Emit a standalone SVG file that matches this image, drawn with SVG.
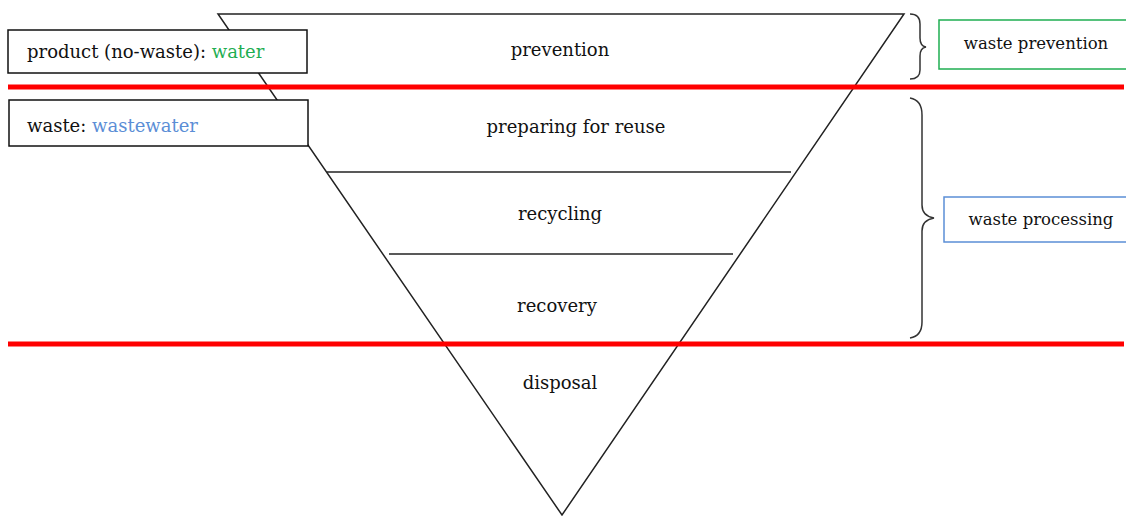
<svg xmlns="http://www.w3.org/2000/svg" width="1126" height="516" viewBox="0 0 1126 516">
<style>
text{font-family:'DejaVu Serif','Liberation Serif',serif;font-size:18px;fill:#111}
.c{text-anchor:middle}
.s{font-size:16.5px}
.ln{stroke:#222;stroke-width:1.5;fill:none}
.red{stroke:#ff0000;stroke-width:5}
.box{fill:#fff;stroke:#111;stroke-width:1.5}
.brace{stroke:#333;stroke-width:1.5;fill:none}
</style>
<rect width="1126" height="516" fill="#fff"/>
<g id="pyramid">
<polygon class="ln" points="218,14 904,14 562,515"/>
<line class="ln" x1="327" y1="172" x2="791" y2="172"/>
<line class="ln" x1="389" y1="254" x2="733" y2="254"/>
<text class="c" x="560" y="56">prevention</text>
<text class="c" x="576" y="133">preparing for reuse</text>
<text class="c" x="560" y="220">recycling</text>
<text class="c" x="557" y="312">recovery</text>
<text class="c" x="560" y="389">disposal</text>
</g>
<g id="dividers">
<line class="red" x1="8" y1="87" x2="1124" y2="87"/>
<line class="red" x1="8" y1="344" x2="1124" y2="344"/>
</g>
<g id="product">
<rect class="box" x="8" y="30" width="299" height="43"/>
<text x="27" y="58">product (no-waste): <tspan fill="#1fae52">water</tspan></text>
</g>
<g id="waste">
<rect class="box" x="9" y="100" width="299" height="46"/>
<text x="27" y="132">waste: <tspan fill="#5b8ed6">wastewater</tspan></text>
</g>
<g id="braces">
<path class="brace" d="M910,14 Q920,14 920,24 L920,38 Q920,46 926,47 Q920,48 920,56 L920,70 Q920,79 910,79"/>
<path class="brace" d="M910,98 Q922,100 922,115 L922,205 Q922,216 934,218 Q922,220 922,231 L922,322 Q922,336 910,338"/>
</g>
<g id="waste-prevention">
<rect x="939" y="20" width="190" height="49" fill="#fff" stroke="#1fae52" stroke-width="1.5"/>
<text class="c s" x="1036" y="49">waste prevention</text>
</g>
<g id="waste-processing">
<rect x="944" y="197" width="190" height="45" fill="#fff" stroke="#5b8ed6" stroke-width="1.5"/>
<text class="c s" x="1041" y="225">waste processing</text>
</g>
</svg>
